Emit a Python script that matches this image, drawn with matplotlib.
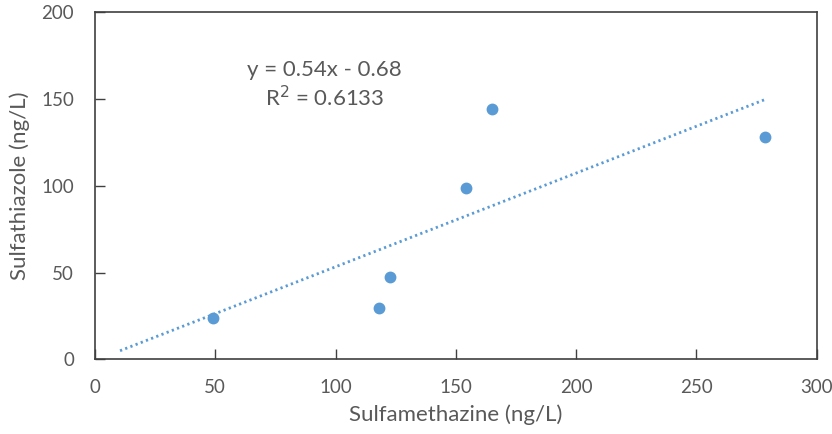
import numpy as np
import matplotlib.pyplot as plt

plt.rcParams['font.family'] = ['Lato', 'DejaVu Sans']

sulfamethazine = [48.9, 118.0, 122.6, 154.2, 165.1, 278.7]
sulfathiazole = [24.0, 29.4, 47.4, 98.6, 144.3, 128.1]
slope, intercept = 0.54, -0.68
trend_x = [10.4, 278.7]
eq_text = "y = 0.54x - 0.68\nR$^2$ = 0.6133"

blue = "#5B9BD5"
grey = "#595959"

fig = plt.figure(figsize=(8.32, 4.34), dpi=100)
ax = fig.add_axes([0.1142, 0.1721, 0.8674, 0.7996])

tx = np.array(trend_x)
ax.plot(tx, slope * tx + intercept, color=blue, linewidth=2, linestyle=(0, (0.8, 1.2)))
ax.plot(sulfamethazine, sulfathiazole, "o", color=blue, markersize=7.5, zorder=3)

ax.set_xlim(0, 300)
ax.set_ylim(0, 200)
ax.set_xticks(range(0, 301, 50))
ax.set_yticks(range(0, 201, 50))
ax.tick_params(direction="in", length=7, width=1, color="#404040",
               labelsize=13.5, labelcolor=grey)
ax.tick_params(axis="x", pad=14)
ax.tick_params(axis="y", pad=15)
for s in ax.spines.values():
    s.set_color("#404040")
    s.set_linewidth(1.2)

ax.set_xlabel("Sulfamethazine (ng/L)", fontsize=16, color=grey, labelpad=6)
ax.set_ylabel("Sulfathiazole (ng/L)", fontsize=16, color=grey, labelpad=8)

ax.text(95.5, 158, eq_text, fontsize=16, color=grey, ha="center", va="center",
        linespacing=1.25)

fig.savefig("out.png", dpi=100)
